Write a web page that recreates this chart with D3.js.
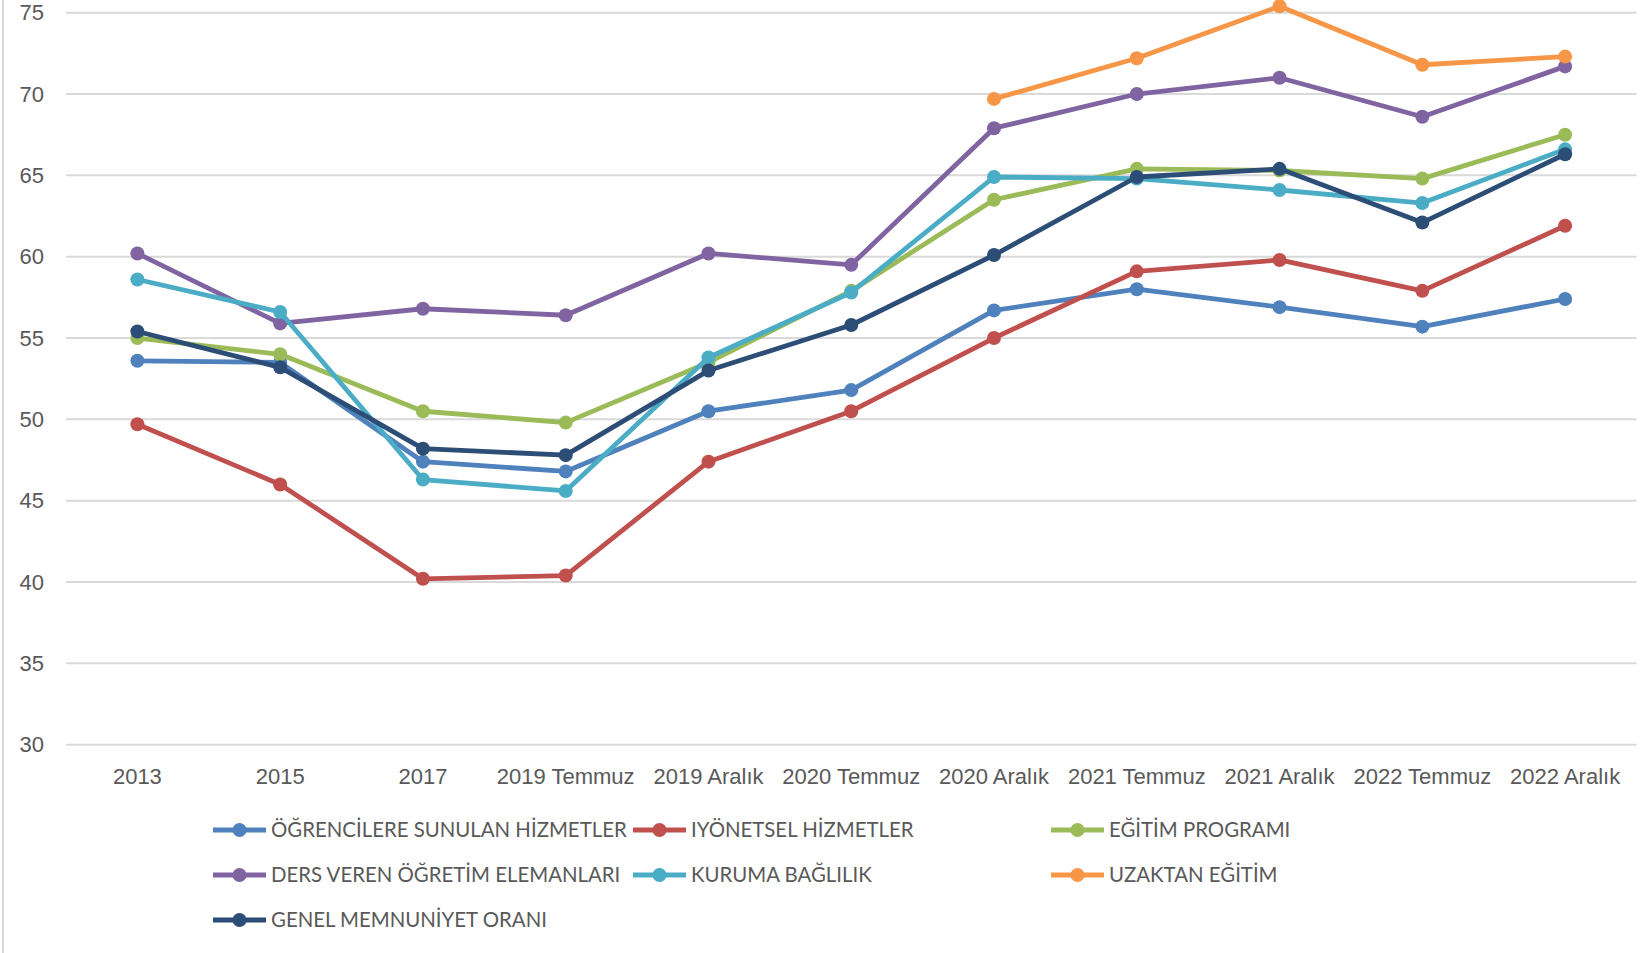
<!DOCTYPE html>
<meta charset="utf-8">
<style>
    body {
        margin: 0;
        background: #fff;
        font-family: Lato, "Open Sans", sans-serif;
    }

    .grid line {
        stroke: #d9d9d9;
        stroke-width: 2;
    }

    .axis text {
        fill: #595959;
        font-size: 22px;
    }

    .legend text {
        fill: #595959;
        font-size: 20.4px;
    }
</style>

<body>
    <script src="https://d3js.org/d3.v7.min.js"></script>
    <script>

        var periods = ["2013", "2015", "2017", "2019 Temmuz", "2019 Aralık", "2020 Temmuz",
            "2020 Aralık", "2021 Temmuz", "2021 Aralık", "2022 Temmuz", "2022 Aralık"];

        var seriesNames = ["ÖĞRENCİLERE SUNULAN HİZMETLER", "IYÖNETSEL HİZMETLER", "EĞİTİM PROGRAMI",
            "DERS VEREN ÖĞRETİM ELEMANLARI", "KURUMA BAĞLILIK", "UZAKTAN EĞİTİM", "GENEL MEMNUNİYET ORANI"];

        var seriesColors = ["#4f81bd", "#c0504d", "#9bbb59", "#8064a2", "#4bacc6", "#f79646", "#2c4d75"];

        var ogrenciHizmet = [53.6, 53.5, 47.4, 46.8, 50.5, 51.8, 56.7, 58.0, 56.9, 55.7, 57.4];
        var yonetselHizmet = [49.7, 46.0, 40.2, 40.4, 47.4, 50.5, 55.0, 59.1, 59.8, 57.9, 61.9];
        var egitimProgrami = [55.0, 54.0, 50.5, 49.8, 53.5, 57.9, 63.5, 65.4, 65.3, 64.8, 67.5];
        var dersVeren = [60.2, 55.9, 56.8, 56.4, 60.2, 59.5, 67.9, 70.0, 71.0, 68.6, 71.7];
        var kurumaBaglilik = [58.6, 56.6, 46.3, 45.6, 53.8, 57.8, 64.9, 64.8, 64.1, 63.3, 66.6];
        var uzaktanEgitim = [null, null, null, null, null, null, 69.7, 72.2, 75.4, 71.8, 72.3];
        var genelMemnuniyet = [55.4, 53.2, 48.2, 47.8, 53.0, 55.8, 60.1, 64.9, 65.4, 62.1, 66.3];

        var yTicks = [30, 35, 40, 45, 50, 55, 60, 65, 70, 75];

        var allValues = [ogrenciHizmet, yonetselHizmet, egitimProgrami, dersVeren,
            kurumaBaglilik, uzaktanEgitim, genelMemnuniyet];

        var width = 1646,
            height = 953;

        var svg = d3.select("body").append("svg")
            .attr("width", width)
            .attr("height", height);

        svg.append("rect")
            .attr("width", width)
            .attr("height", height)
            .attr("fill", "#fff");

        // chart border, only the left edge shows
        svg.append("line")
            .attr("x1", 3).attr("x2", 3)
            .attr("y1", 0).attr("y2", height)
            .attr("stroke", "#d9d9d9")
            .attr("stroke-width", 2);

        var x = d3.scaleBand().domain(periods).range([66, 1636.5]);
        var y = d3.scaleLinear().domain([30, 75]).range([744.7, 12.7]);

        // gridlines
        svg.append("g")
            .attr("class", "grid")
            .selectAll(null)
            .data(yTicks)
            .enter()
            .append("line")
            .attr("x1", x.range()[0])
            .attr("x2", x.range()[1])
            .attr("y1", function (d) { return y(d); })
            .attr("y2", function (d) { return y(d); });

        var yAxis = svg.append("g")
            .attr("class", "axis")
            .attr("transform", "translate(44,0)")
            .call(d3.axisLeft(y).tickValues(yTicks).tickSize(0).tickPadding(0));
        yAxis.select(".domain").remove();
        yAxis.selectAll("text").attr("font-family", null).attr("font-size", null);

        var xAxis = svg.append("g")
            .attr("class", "axis")
            .attr("transform", "translate(0,768)")
            .call(d3.axisBottom(x).tickSize(0).tickPadding(0));
        xAxis.select(".domain").remove();
        xAxis.selectAll("text").attr("font-family", null).attr("font-size", null);

        var series = seriesNames.map(function (name, i) {
            return {
                name: name,
                color: seriesColors[i],
                values: allValues[i].map(function (v, j) { return { period: periods[j], value: v }; })
            };
        });

        var line = d3.line()
            .defined(function (d) { return d.value !== null; })
            .x(function (d) { return x(d.period) + x.bandwidth() / 2; })
            .y(function (d) { return y(d.value); });

        var groups = svg.selectAll(".series")
            .data(series)
            .enter()
            .append("g")
            .attr("class", "series");

        groups.append("path")
            .attr("d", function (d) { return line(d.values); })
            .attr("fill", "none")
            .attr("stroke", function (d) { return d.color; })
            .attr("stroke-width", 4.8)
            .attr("stroke-linejoin", "round");

        groups.selectAll("circle")
            .data(function (d) {
                return d.values.filter(function (v) { return v.value !== null; })
                    .map(function (v) { return { v: v, color: d.color }; });
            })
            .enter()
            .append("circle")
            .attr("cx", function (d) { return x(d.v.period) + x.bandwidth() / 2; })
            .attr("cy", function (d) { return y(d.v.value); })
            .attr("r", 7)
            .attr("fill", function (d) { return d.color; });

        // legend, three columns
        var legendX = [213, 633, 1051],
            legendY = [830, 875, 920];

        var legend = svg.append("g")
            .attr("class", "legend")
            .selectAll("g")
            .data(series)
            .enter()
            .append("g")
            .attr("transform", function (d, i) {
                return "translate(" + legendX[i % 3] + "," + legendY[Math.floor(i / 3)] + ")";
            });

        legend.append("line")
            .attr("x1", 0).attr("x2", 53)
            .attr("stroke", function (d) { return d.color; })
            .attr("stroke-width", 4.8);

        legend.append("circle")
            .attr("cx", 26.5)
            .attr("r", 7)
            .attr("fill", function (d) { return d.color; });

        legend.append("text")
            .attr("x", 58)
            .attr("dy", "0.36em")
            .text(function (d) { return d.name; });

    </script>
</body>
